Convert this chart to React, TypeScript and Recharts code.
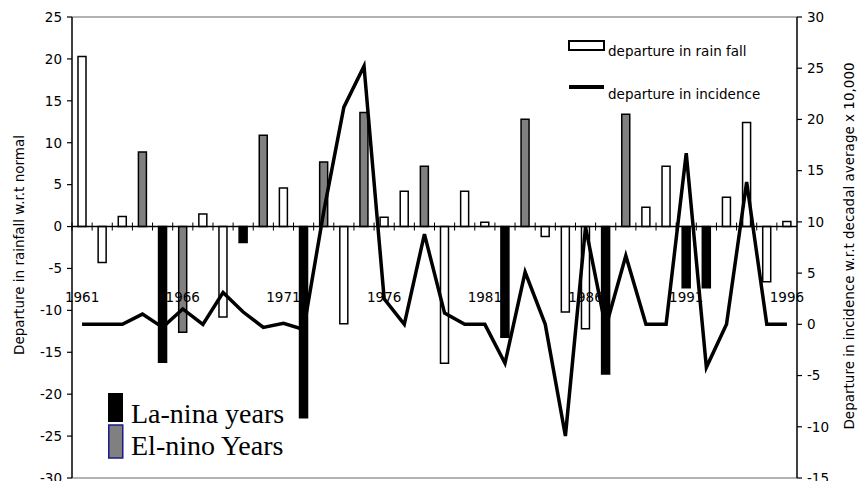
import React from 'react';
import { ComposedChart, Bar, Line, XAxis, YAxis, ReferenceLine, Cell } from 'recharts';

const years = ['1961','1962','1963','1964','1965','1966','1967','1968','1969','1970','1971','1972','1973','1974','1975','1976','1977','1978','1979','1980','1981','1982','1983','1984','1985','1986','1987','1988','1989','1990','1991','1992','1993','1994','1995','1996'];
const rainDeparture = [20.3, -4.3, 1.2, 8.9, -16.2, -12.6, 1.5, -10.8, -1.9, 10.9, 4.6, -22.8, 7.7, -11.6, 13.6, 1.1, 4.2, 7.2, -16.3, 4.2, 0.5, -13.2, 12.8, -1.2, -10.2, -12.2, -17.6, 13.4, 2.3, 7.2, -7.3, -7.3, 3.5, 12.4, -6.6, 0.6];
const yearType = ['n','n','n','E','L','E','n','n','L','E','n','L','E','n','E','n','n','E','n','n','n','L','E','n','n','n','L','E','n','n','L','L','n','n','n','n'];
const incidenceDeparture = [0, 0, 0, 1.0, -0.3, 1.5, 0, 3.1, 1.2, -0.3, 0.1, -0.5, 11, 21.2, 25.2, 2.5, 0, 8.8, 1.1, 0, 0, -3.8, 5.1, 0, -10.9, 9.5, -0.3, 6.7, 0, 0, 16.7, -4.2, 0, 13.9, 0, 0];
const leftTicks = [-30, -25, -20, -15, -10, -5, 0, 5, 10, 15, 20, 25];
const rightTicks = [-15, -10, -5, 0, 5, 10, 15, 20, 25, 30];
const labeledYears = ['1961', '1966', '1971', '1976', '1981', '1986', '1991', '1996'];

const data = years.map((y, i) => ({ year: y, rain: rainDeparture[i], inc: incidenceDeparture[i], type: yearType[i] }));

const W = 858;
const H = 481;
const TOP = 17;
const LEFT_W = 72;
const RIGHT_W = 61;
const XH = 3;
const PLOT_H = H - TOP - XH;
const PLOT_W = W - LEFT_W - RIGHT_W;
const ZERO_Y = TOP + (PLOT_H * 25) / 55;
const BAND = PLOT_W / years.length;
const SANS = 'DejaVu Sans';
const SERIF = 'Liberation Serif';

const typeFill: Record<string, string> = { n: '#ffffff', L: '#000000', E: '#808080' };

const XTick = (props: any) => {
  const { x, payload } = props;
  const bx = x - BAND / 2;
  return (
    <g>
      <line x1={bx} x2={bx} y1={ZERO_Y - 4} y2={ZERO_Y + 4} stroke="#000" strokeWidth={1} />
      {labeledYears.includes(payload.value) && (
        <text x={x} y={ZERO_Y + 75} textAnchor="middle" fontSize={13.5} fontFamily={SANS} fill="#000">
          {payload.value}
        </text>
      )}
    </g>
  );
};

export default function App() {
  return (
    <div style={{ position: 'absolute', left: 0, top: 0, width: W, height: H, background: '#fff' }}>
      <ComposedChart width={W} height={H} data={data} margin={{ top: TOP, right: 0, bottom: 0, left: 0 }} barSize={8}>
        <XAxis dataKey="year" xAxisId="x" height={XH} axisLine={false} tickLine={false} interval={0} tick={<XTick />} />
        <YAxis
          yAxisId="left"
          orientation="left"
          width={LEFT_W}
          domain={[-30, 25]}
          ticks={leftTicks}
          interval={0}
          allowDataOverflow
          axisLine={{ stroke: '#000', strokeWidth: 1.5 }}
          tickLine={{ stroke: '#000', strokeWidth: 1.2 }}
          tickSize={5}
          tickMargin={5}
          tick={{ fill: '#000', fontSize: 13.5, fontFamily: SANS }}
        />
        <YAxis
          yAxisId="right"
          orientation="right"
          width={RIGHT_W}
          domain={[-15, 30]}
          ticks={rightTicks}
          interval={0}
          allowDataOverflow
          axisLine={{ stroke: '#000', strokeWidth: 1.5 }}
          tickLine={{ stroke: '#000', strokeWidth: 1.2 }}
          tickSize={5}
          tickMargin={5}
          tick={{ fill: '#000', fontSize: 13.5, fontFamily: SANS }}
        />
        <ReferenceLine yAxisId="left" xAxisId="x" y={25} stroke="#999" strokeWidth={1.5} />
        <ReferenceLine yAxisId="left" xAxisId="x" y={-30} stroke="#999" strokeWidth={1.5} />
        <Bar dataKey="rain" yAxisId="left" xAxisId="x" stroke="#000" strokeWidth={1.5} isAnimationActive={false}>
          {data.map((d, i) => (
            <Cell key={i} fill={typeFill[d.type]} />
          ))}
        </Bar>
        <ReferenceLine yAxisId="left" xAxisId="x" y={0} stroke="#000" strokeWidth={1.5} />
        <Line
          dataKey="inc"
          yAxisId="right"
          xAxisId="x"
          type="linear"
          stroke="#000"
          strokeWidth={3.5}
          strokeLinejoin="miter"
          dot={false}
          activeDot={false}
          isAnimationActive={false}
        />
      </ComposedChart>
      <svg width={W} height={H} style={{ position: 'absolute', left: 0, top: 0, pointerEvents: 'none' }}>
        <text transform={`translate(19, 245) rotate(-90)`} textAnchor="middle" dominantBaseline="central" fontSize={13.5} fontFamily={SANS} fill="#000">
          Departure in rainfall w.r.t normal
        </text>
        <text transform={`translate(849, 246) rotate(-90)`} textAnchor="middle" dominantBaseline="central" fontSize={13.5} fontFamily={SANS} fill="#000">
          Departure in incidence w.r.t decadal average x 10,000
        </text>
        <rect x={569} y={41} width={35} height={9} fill="#fff" stroke="#000" strokeWidth={2} />
        <text x={608} y={56} fontSize={13.5} fontFamily={SANS} fill="#000">departure in rain fall</text>
        <line x1={569} x2={604} y1={87} y2={87} stroke="#000" strokeWidth={4} />
        <text x={608} y={98.5} fontSize={13.5} fontFamily={SANS} fill="#000">departure in incidence</text>
        <rect x={108} y={393} width={15} height={29} fill="#000" />
        <rect x={108.75} y={425} width={14} height={33} fill="#808080" stroke="#1a1a8c" strokeWidth={1.5} />
        <text x={131} y={423} fontSize={28} fontFamily={SERIF} fill="#000">La-nina years</text>
        <text x={131} y={455} fontSize={28} fontFamily={SERIF} fill="#000">El-nino Years</text>
      </svg>
    </div>
  );
}
